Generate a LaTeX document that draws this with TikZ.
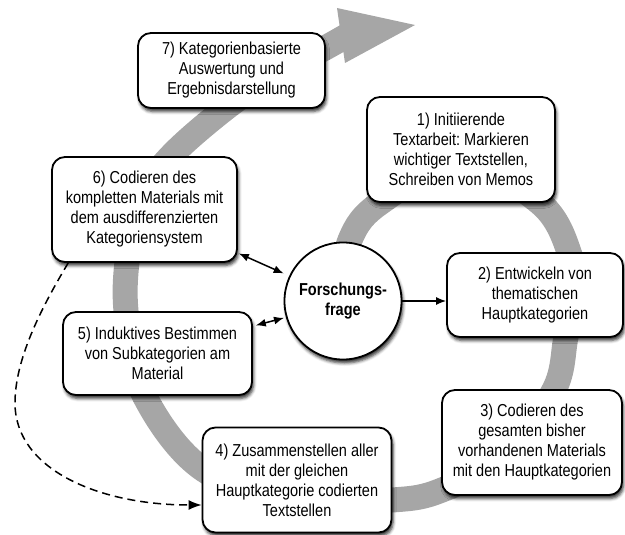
\documentclass[tikz,border=0pt]{standalone}
\usepackage{fontspec}
\setmainfont{Liberation Sans}[FakeStretch=0.84]
\usetikzlibrary{arrows.meta,shadows.blur,calc}
\definecolor{spiralgray}{RGB}{166,166,166}
\frenchspacing
\tikzset{
  stage/.style={draw=black, line width=1.8pt, rounded corners=13pt, fill=white,
    align=center, inner sep=0pt, font=\fontsize{17.3}{20}\selectfont,
    blur shadow={shadow xshift=1.5pt, shadow yshift=-3.5pt, shadow blur radius=3pt, shadow opacity=80}},
  centre/.style={draw=black, line width=1.8pt, circle, fill=white, align=center,
    inner sep=0pt, minimum size=117pt, font=\fontsize{17.3}{20}\selectfont\bfseries,
    blur shadow={shadow xshift=1.5pt, shadow yshift=-3.5pt, shadow blur radius=3pt, shadow opacity=80}},
  spiral/.style={draw=spiralgray, line width=25pt, line cap=butt},
  spiralhead/.style={fill=spiralgray},
  link/.style={line width=1.5pt, -{Latex[length=10pt,width=8pt]}},
  dbllink/.style={line width=1.5pt, {Latex[length=10pt,width=8pt]}-{Latex[length=10pt,width=8pt]}},
  dashlink/.style={line width=1.5pt, dash pattern=on 8pt off 5pt, -{Latex[length=13pt,width=10pt]}},
}
\begin{document}
\begin{tikzpicture}[x=1pt,y=-1pt]
\useasboundingbox (0,0) rectangle (625,535);
% gray spiral
\draw[spiral] plot[smooth, tension=0.6] coordinates {
  (343,290) (350,240) (380,203) (460,163) (540,203) (570,255) (574,300)
  (566,337) (554,390) (505,455) (442,490) (392,500) (300,500) (204,470)
  (144,395) (127,320) (127,262) (140,200) (170,157) (226,108) (275,75)
  (325,48) (348,35)};
\fill[spiralhead] (337,8) -- (415,25) -- (345,63) -- cycle;
% stages
\node[stage, minimum width=187pt, minimum height=75pt] (b7) at (231.5,70.5)
  {7) Kategorienbasierte\\Auswertung und\\Ergebnisdarstellung};
\node[stage, minimum width=188pt, minimum height=105pt] (b1) at (461,149.5)
  {1) Initiierende\\Textarbeit: Markieren\\wichtiger Textstellen,\\Schreiben von Memos};
\node[stage, minimum width=185pt, minimum height=105pt] (b6) at (144.5,209.5)
  {6) Codieren des\\kompletten Materials mit\\dem ausdifferenzierten\\Kategoriensystem};
\node[stage, minimum width=176pt, minimum height=84pt] (b2) at (535,295)
  {2) Entwickeln von\\thematischen\\Hauptkategorien};
\node[stage, minimum width=189pt, minimum height=83pt] (b5) at (157.5,353.5)
  {5) Induktives Bestimmen\\von Subkategorien am\\Material};
\node[stage, minimum width=180pt, minimum height=105pt] (b3) at (532,442.5)
  {3) Codieren des\\gesamten bisher\\vorhandenen Materials\\mit den Hauptkategorien};
\node[stage, minimum width=189pt, minimum height=105pt] (b4) at (297,480)
  {4) Zusammenstellen aller\\mit der gleichen\\Hauptkategorie codierten\\Textstellen};
\node[centre] (ff) at (343,301) {Forschungs-\\frage};
% connectors
\draw[link] (ff.east) -- (ff.east -| b2.west);
\draw[dbllink, shorten <=1pt, shorten >=6pt] (b6.-25) -- (ff.155);
\draw[dbllink, shorten <=3pt, shorten >=2pt] (b5.16) -- (ff.196);
\coordinate (dend) at ($(b4.west)+(0,25)$);
\draw[dashlink] (b6.215) .. controls (40,310) and (15,360) .. (15,403)
  .. controls (15,470) and (100,505) .. (dend);
\end{tikzpicture}
\end{document}
